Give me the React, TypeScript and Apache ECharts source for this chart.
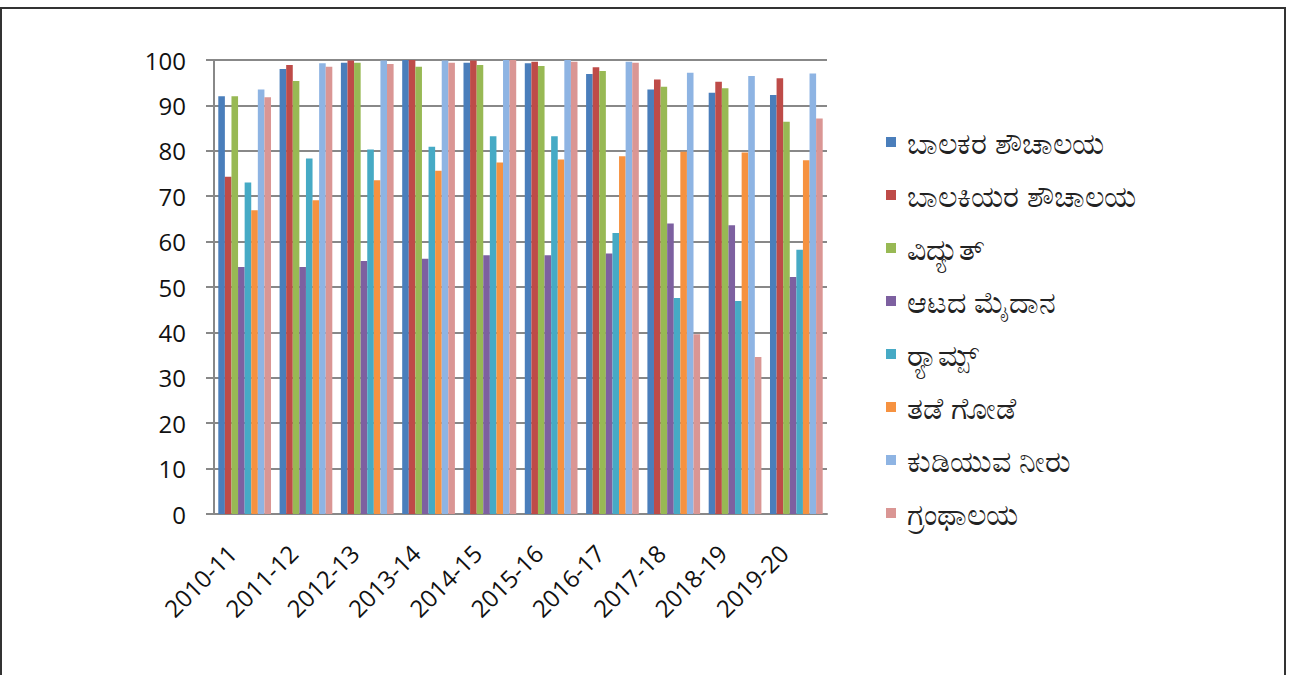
import React, { useEffect, useRef } from "react";
import * as echarts from "echarts";

const categories = ["2010-11", "2011-12", "2012-13", "2013-14", "2014-15", "2015-16", "2016-17", "2017-18", "2018-19", "2019-20"];
const seriesNames = ["ಬಾಲಕರ ಶೌಚಾಲಯ", "ಬಾಲಕಿಯರ ಶೌಚಾಲಯ", "ವಿದ್ಯುತ್", "ಆಟದ ಮೈದಾನ", "ರ್‍ಯಾಮ್ಪ್", "ತಡೆ ಗೋಡೆ", "ಕುಡಿಯುವ ನೀರು", "ಗ್ರಂಥಾಲಯ"];
const boysToilet = [92, 98, 99.4, 100, 99.4, 99.3, 96.9, 93.5, 92.8, 92.3];
const girlsToilet = [74.3, 98.9, 99.9, 100, 99.9, 99.6, 98.4, 95.7, 95.2, 96];
const electricity = [92, 95.4, 99.4, 98.5, 98.9, 98.7, 97.6, 94.1, 93.8, 86.4];
const playground = [54.4, 54.4, 55.7, 56.2, 57, 57, 57.4, 64, 63.6, 52.2];
const ramps = [73, 78.3, 80.3, 80.9, 83.2, 83.2, 61.9, 47.6, 46.9, 58.2];
const compoundWall = [66.9, 69.1, 73.5, 75.6, 77.4, 78.1, 78.8, 79.8, 79.6, 77.9];
const drinkingWater = [93.5, 99.3, 99.9, 99.9, 100, 100, 99.6, 97.2, 96.5, 97];
const library = [91.8, 98.5, 99.1, 99.4, 100, 99.6, 99.4, 39.6, 34.6, 87.1];
const yTicks = [0, 10, 20, 30, 40, 50, 60, 70, 80, 90, 100];

const allValues = [boysToilet, girlsToilet, electricity, playground, ramps, compoundWall, drinkingWater, library];
const colors = ["#4A7EBB", "#BE4B48", "#98B954", "#7D60A0", "#46AAC5", "#F69240", "#8EB4E3", "#DA9694"];

export default function App() {
  const ref = useRef<HTMLDivElement>(null);
  useEffect(() => {
    if (!ref.current) return;
    const chart = echarts.init(ref.current, undefined, { renderer: "svg" });
    chart.setOption({
      animation: false,
      backgroundColor: "#ffffff",
      color: colors,
      graphic: [
        {
          type: "rect",
          shape: { x: 1, y: 8, width: 1284, height: 720 },
          style: { fill: "none", stroke: "#333", lineWidth: 2 },
          z: 100,
        },
      ],
      grid: { left: 214, top: 60, width: 613, height: 454, containLabel: false },
      legend: {
        orient: "vertical",
        left: 881,
        top: 122,
        itemWidth: 10,
        itemHeight: 10,
        itemGap: 23,
        icon: "rect",
        data: seriesNames,
        textStyle: {
          fontSize: 30,
          color: "#222",
          fontFamily: "Noto Sans, sans-serif",
          padding: [0, 0, 0, 6],
        },
      },
      xAxis: {
        type: "category",
        data: categories,
        axisLine: { show: true, lineStyle: { color: "#888", width: 2 } },
        axisTick: { show: false },
        axisLabel: {
          rotate: 45,
          fontSize: 24,
          color: "#111",
          fontFamily: "Open Sans, sans-serif",
          margin: 22,
          padding: [0, 18, 0, 0],
          interval: 0,
        },
      },
      yAxis: {
        type: "value",
        min: 0,
        max: 100,
        interval: 10,
        axisLine: { show: true, lineStyle: { color: "#888", width: 2 } },
        axisTick: { show: true, length: 8, lineStyle: { color: "#888", width: 2 } },
        splitLine: { show: true, lineStyle: { color: "#888", width: 2 } },
        axisLabel: {
          fontSize: 24,
          color: "#111",
          fontFamily: "Open Sans, sans-serif",
          margin: 28,
          customValues: yTicks,
        },
      },
      series: seriesNames.map((name, i) => ({
        name,
        type: "bar",
        data: allValues[i],
        barGap: "0%",
        barCategoryGap: "14%",
        itemStyle: { color: colors[i] },
      })),
    });
    return () => chart.dispose();
  }, []);
  return (
    <div
      ref={ref}
      style={{ position: "fixed", left: 0, top: 0, width: 1302, height: 675 }}
    />
  );
}
